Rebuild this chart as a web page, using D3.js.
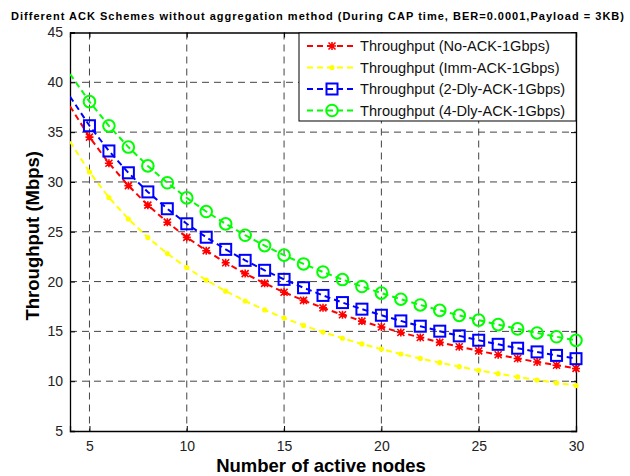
<!DOCTYPE html>
<html>
<head>
<meta charset="utf-8">
<script src="https://cdn.jsdelivr.net/npm/d3@7"></script>
<style>
  body { margin: 0; background: #fff; }
  text { font-family: Arial, "Liberation Sans", sans-serif; }
</style>
</head>
<body>
<div id="chart"></div>
<script>
// number of active nodes
var nodes = [4, 5, 6, 7, 8, 9, 10, 11, 12, 13, 14, 15, 16, 17, 18, 19, 20, 21, 22, 23, 24, 25, 26, 27, 28, 29, 30];

// throughput values (Mbps)
var noAck = [37.60, 34.50, 31.88, 29.63, 27.67, 25.96, 24.44, 23.10, 21.89, 20.80, 19.82, 18.93, 18.11, 17.36, 16.67, 16.03, 15.44, 14.89, 14.38, 13.90, 13.46, 13.04, 12.65, 12.28, 11.93, 11.60, 11.28];
var immAck = [34.05, 31.00, 28.44, 26.28, 24.42, 22.81, 21.40, 20.15, 19.04, 18.05, 17.15, 16.34, 15.60, 14.93, 14.31, 13.74, 13.22, 12.73, 12.28, 11.86, 11.46, 11.09, 10.75, 10.43, 10.12, 9.83, 9.56];
var dly2Ack = [38.58, 35.64, 33.11, 30.92, 29.00, 27.31, 25.80, 24.45, 23.23, 22.13, 21.13, 20.22, 19.38, 18.61, 17.89, 17.23, 16.62, 16.05, 15.52, 15.02, 14.55, 14.11, 13.70, 13.31, 12.94, 12.59, 12.26];
var dly4Ack = [40.83, 38.06, 35.63, 33.50, 31.61, 29.92, 28.40, 27.03, 25.79, 24.65, 23.61, 22.65, 21.77, 20.96, 20.20, 19.50, 18.84, 18.23, 17.65, 17.11, 16.61, 16.13, 15.68, 15.25, 14.84, 14.46, 14.10];

var seriesNames = ["Throughput (No-ACK-1Gbps)", "Throughput (Imm-ACK-1Gbps)", "Throughput (2-Dly-ACK-1Gbps)", "Throughput (4-Dly-ACK-1Gbps)"];
var xTicks = [5, 10, 15, 20, 25, 30];
var yTicks = [5, 10, 15, 20, 25, 30, 35, 40, 45];

var series = [
    { name: seriesNames[0], values: noAck, color: "#ff0000", marker: "star" },
    { name: seriesNames[1], values: immAck, color: "#ffff00", marker: "dot" },
    { name: seriesNames[2], values: dly2Ack, color: "#0000ff", marker: "square" },
    { name: seriesNames[3], values: dly4Ack, color: "#00ff00", marker: "circle" }
];

var svgWidth = 630, svgHeight = 476;
var margin = { top: 32.5, right: 54, bottom: 45, left: 70 };
var width = svgWidth - margin.left - margin.right;
var height = svgHeight - margin.top - margin.bottom;

var svg = d3.select("#chart").append("svg")
    .attr("width", svgWidth)
    .attr("height", svgHeight);

// title
svg.append("text")
    .attr("x", 11)
    .attr("y", 20)
    .attr("font-size", "11px")
    .attr("font-weight", "bold")
    .attr("textLength", 613)
    .attr("lengthAdjust", "spacing")
    .text("Different ACK Schemes without aggregation method (During CAP time, BER=0.0001,Payload = 3KB)");

var chartGroup = svg.append("g")
    .attr("transform", `translate(${margin.left}, ${margin.top})`);

var xScale = d3.scaleLinear().domain([4, 30]).range([0, width]);
var yScale = d3.scaleLinear().domain([5, 45]).range([height, 0]);

chartGroup.append("clipPath").attr("id", "clip")
    .append("rect").attr("width", width).attr("height", height);

// grid
var grid = chartGroup.append("g");
grid.selectAll(".vgrid").data(xTicks.slice(0, -1)).enter().append("line")
    .attr("x1", d => xScale(d)).attr("x2", d => xScale(d))
    .attr("y1", 0).attr("y2", height)
    .attr("stroke", "#444").attr("stroke-width", 1).attr("stroke-dasharray", "7,5");
grid.selectAll(".hgrid").data(yTicks.slice(1, -1)).enter().append("line")
    .attr("x1", 0).attr("x2", width)
    .attr("y1", d => yScale(d)).attr("y2", d => yScale(d))
    .attr("stroke", "#444").attr("stroke-width", 1).attr("stroke-dasharray", "7,5");

// axes
var bottomAxis = d3.axisBottom(xScale).tickValues(xTicks).tickSize(-5).tickPadding(10);
var leftAxis = d3.axisLeft(yScale).tickValues(yTicks).tickSize(-5).tickPadding(7);
var topAxis = d3.axisTop(xScale).tickValues(xTicks).tickSize(-5).tickFormat("");
var rightAxis = d3.axisRight(yScale).tickValues(yTicks).tickSize(-5).tickFormat("");

var xAxis = chartGroup.append("g").attr("transform", `translate(0, ${height})`).call(bottomAxis);
var yAxis = chartGroup.append("g").call(leftAxis);
chartGroup.append("g").call(topAxis);
chartGroup.append("g").attr("transform", `translate(${width}, 0)`).call(rightAxis);

chartGroup.selectAll(".domain").attr("stroke", "#000").attr("stroke-width", 1.3);
chartGroup.selectAll(".tick line").attr("stroke", "#000");
chartGroup.selectAll(".tick text")
    .attr("font-size", "14px")
    .attr("fill", "#222")
    .attr("font-family", "Arial, 'Liberation Sans', sans-serif");

// axis labels
svg.append("text")
    .attr("x", margin.left + width / 2 - 2)
    .attr("y", 472)
    .attr("text-anchor", "middle")
    .attr("font-size", "18.5px")
    .attr("font-weight", "bold")
    .text("Number of active nodes");

svg.append("text")
    .attr("transform", `translate(39, ${margin.top + height / 2 + 4}) rotate(-90)`)
    .attr("text-anchor", "middle")
    .attr("font-size", "18.5px")
    .attr("font-weight", "bold")
    .text("Throughput (Mbps)");

// marker drawing
function drawMarker(g, type, color) {
    if (type === "star") {
        g.append("path").attr("d", "M-3.5,-3.5L3.5,3.5M-3.5,3.5L3.5,-3.5M0,-4L0,4M-4,0L4,0")
            .attr("stroke", color).attr("stroke-width", 1.6).attr("fill", "none");
    } else if (type === "dot") {
        g.append("circle").attr("r", 2.6).attr("fill", color);
    } else if (type === "square") {
        g.append("rect").attr("x", -5.5).attr("y", -5.5).attr("width", 11).attr("height", 11)
            .attr("stroke", color).attr("stroke-width", 2).attr("fill", "none");
    } else if (type === "circle") {
        g.append("circle").attr("r", 5.8)
            .attr("stroke", color).attr("stroke-width", 2).attr("fill", "none");
    }
}

var line = d3.line()
    .x((d, i) => xScale(nodes[i]))
    .y(d => yScale(d));

var plotArea = chartGroup.append("g").attr("clip-path", "url(#clip)");

series.forEach(function (s) {
    plotArea.append("path")
        .datum(s.values)
        .attr("d", line)
        .attr("fill", "none")
        .attr("stroke", s.color)
        .attr("stroke-width", 2)
        .attr("stroke-dasharray", "6,4");

    s.values.forEach(function (v, i) {
        if (nodes[i] < 5) return;
        var g = chartGroup.append("g")
            .attr("transform", `translate(${xScale(nodes[i])}, ${yScale(v)})`);
        drawMarker(g, s.marker, s.color);
    });
});

// legend
var legend = svg.append("g").attr("transform", "translate(299, 33)");
legend.append("rect")
    .attr("width", 277).attr("height", 88)
    .attr("fill", "#fff").attr("stroke", "#000").attr("stroke-width", 1);

series.forEach(function (s, i) {
    var y = 13 + i * 21.5;
    legend.append("line")
        .attr("x1", 8).attr("x2", 55).attr("y1", y).attr("y2", y)
        .attr("stroke", s.color).attr("stroke-width", 2).attr("stroke-dasharray", "6,4");
    var g = legend.append("g").attr("transform", `translate(33, ${y})`);
    drawMarker(g, s.marker, s.color);
    legend.append("text")
        .attr("x", 61).attr("y", y + 5)
        .attr("font-size", "14.6px")
        .attr("fill", "#111")
        .text(s.name);
});
</script>
</body>
</html>
